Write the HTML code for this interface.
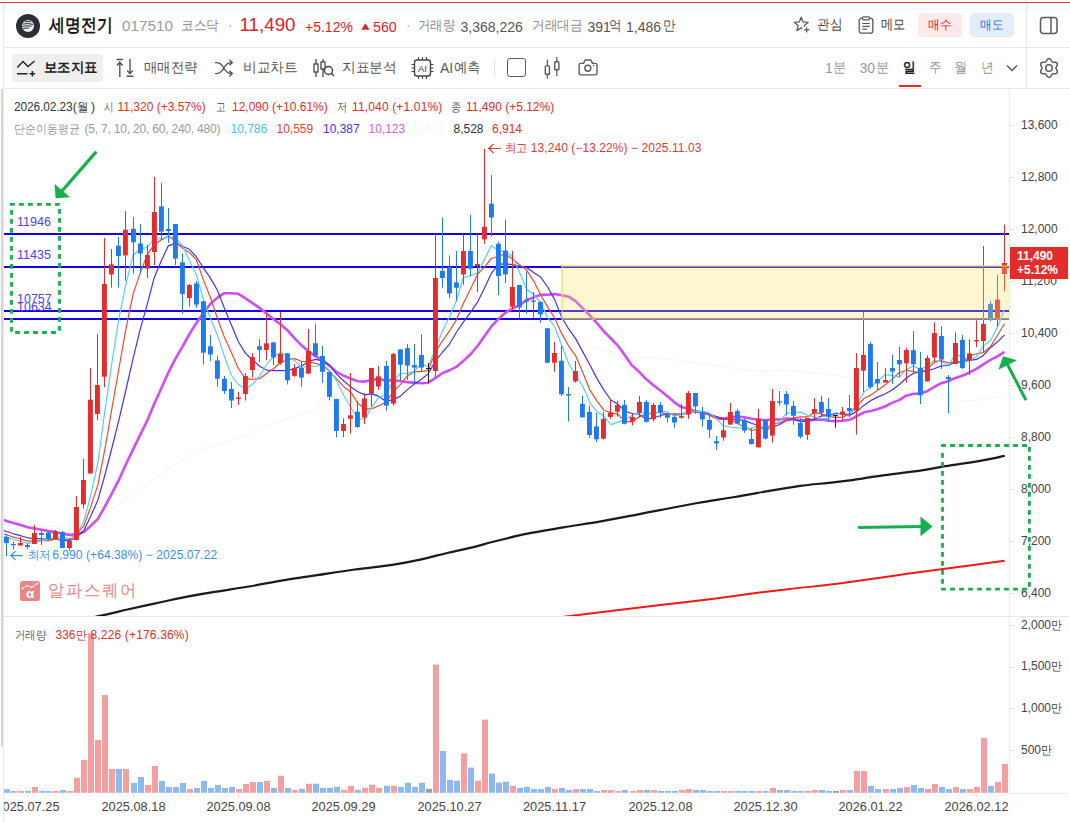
<!DOCTYPE html>
<html><head><meta charset="utf-8">
<style>
*{margin:0;padding:0;box-sizing:border-box}
html,body{width:1070px;height:822px;overflow:hidden;background:#fff}
body{position:relative;font-family:"Liberation Sans",sans-serif;color:#333}
.a{position:absolute;white-space:nowrap;line-height:1}
.k{position:absolute;white-space:nowrap;line-height:1;transform-origin:0 0}
.ln{position:absolute;background:#e8e8e8}
.ax{position:absolute;font-size:12px;color:#444;line-height:1;white-space:nowrap}
.dt{position:absolute;font-size:12.8px;color:#444;line-height:1;white-space:nowrap;width:70px;text-align:center}
.tk{position:absolute;width:5px;height:1px;background:#e6e6e6;left:1010px}
</style></head><body>
<!-- frame lines -->
<div class="ln" style="left:0;top:2px;width:1070px;height:1px;background:#e53935"></div>
<div class="ln" style="left:3px;top:3px;width:1px;height:85px"></div>
<div class="ln" style="left:3px;top:47px;width:1067px;height:1px"></div>
<div class="ln" style="left:3px;top:88px;width:1067px;height:1px"></div>
<div class="ln" style="left:1026px;top:3px;width:1px;height:85px"></div>
<div class="ln" style="left:3px;top:89px;width:1px;height:733px;background:#ebebeb"></div>
<div class="ln" style="left:1px;top:89px;width:2px;height:658px;background:#d6d6d6"></div>
<div class="ln" style="left:1009px;top:89px;width:1px;height:705px;background:#ececec"></div>
<div class="ln" style="left:4px;top:616px;width:1065px;height:1px;background:#e6e6e6"></div>
<div class="ln" style="left:1010px;top:793px;width:59px;height:1px;background:#ececec"></div>
<div class="tk" style="top:125px"></div><div class="tk" style="top:177px"></div><div class="tk" style="top:229px"></div><div class="tk" style="top:281px"></div><div class="tk" style="top:333px"></div><div class="tk" style="top:385px"></div><div class="tk" style="top:437px"></div><div class="tk" style="top:489px"></div><div class="tk" style="top:541px"></div><div class="tk" style="top:593px"></div>
<div class="tk" style="top:625px"></div><div class="tk" style="top:667px"></div><div class="tk" style="top:708px"></div><div class="tk" style="top:750px"></div>

<!-- header -->
<div class="a" style="left:16px;top:14px;width:24px;height:24px;border-radius:50%;background:#2b2f36"></div>
<svg class="a" style="left:16px;top:14px" width="24" height="24" viewBox="0 0 24 24"><circle cx="12" cy="11.9" r="6" fill="#ececec"/><path d="M9.3 7.6 Q12 6.9 14.6 7.9 M7.4 10 Q11.5 8.8 16.6 10.3 M6.8 12.4 Q10.5 11.2 15.2 12.1 M7.5 14.6 Q10 13.6 12.6 14" stroke="#2b2f36" stroke-width="1" fill="none" stroke-linecap="round"/></svg>
<div class="k" style="left:49px;top:16px;font-size:18px;font-weight:bold;color:#1b1b1b;transform:scaleX(.88)">세명전기</div>
<div class="a" style="left:122px;top:17.5px;font-size:15.3px;color:#9c9c9c">017510</div>
<div class="k" style="left:181px;top:18px;font-size:14px;color:#8e8e8e;transform:scaleX(.9)">코스닥</div>
<div class="a" style="left:228px;top:18px;font-size:14px;color:#aaa">·</div>
<div class="a" style="left:239.5px;top:16px;font-size:18.8px;color:#e4202a">11,490</div>
<div class="a" style="left:305px;top:19.5px;font-size:14px;color:#e4202a">+5.12%</div>
<svg class="a" style="left:360px;top:22px" width="11" height="9" viewBox="0 0 11 9"><polygon points="1.3,7.7 9.5,7.7 5.4,1.3" fill="#e4202a"/></svg>
<div class="a" style="left:373px;top:19.5px;font-size:14.2px;color:#e4202a">560</div>
<div class="a" style="left:406px;top:18px;font-size:14px;color:#aaa">·</div>
<div class="k" style="left:418px;top:18px;font-size:14px;color:#8e8e8e;transform:scaleX(.88)">거래량</div>
<div class="a" style="left:460.5px;top:19.5px;font-size:14px;color:#555">3,368,226</div>
<div class="k" style="left:532px;top:18px;font-size:14px;color:#8e8e8e;transform:scaleX(.91)">거래대금</div>
<div class="a" style="left:587.5px;top:19.5px;font-size:14px;color:#555">391</div>
<div class="k" style="left:609px;top:18px;font-size:14px;color:#555;transform:scaleX(.9)">억</div>
<div class="a" style="left:626px;top:19.5px;font-size:14px;color:#555">1,486</div>
<div class="k" style="left:663px;top:18px;font-size:14px;color:#555;transform:scaleX(.9)">만</div>

<svg class="a" style="left:793px;top:16px" width="18" height="17" viewBox="0 0 18 17"><path d="M11.7 10.9 L11.3 9.6 L15.2 6.3 L10.1 5.9 L8.2 1.2 L6.3 5.9 L1.2 6.3 L5.1 9.6 L3.9 14.6 L8.2 11.9 L9.4 12.6" fill="none" stroke="#5a5a5a" stroke-width="1.3" stroke-linejoin="round"/><path d="M13.6 11.2 V16.6 M10.9 13.9 H16.3" stroke="#5a5a5a" stroke-width="1.3"/></svg>
<div class="k" style="left:816.5px;top:17px;font-size:14px;color:#444;transform:scaleX(.9)">관심</div>
<svg class="a" style="left:858px;top:16px" width="16" height="18" viewBox="0 0 16 18"><rect x="1.2" y="2.2" width="13.6" height="15" rx="2.5" fill="none" stroke="#5a5a5a" stroke-width="1.3"/><rect x="4.5" y="0.8" width="7" height="3" rx="1" fill="#fff" stroke="#5a5a5a" stroke-width="1.2"/><path d="M4.3 7.5H11.7M4.3 10.3H11.7M4.3 13.1H9" stroke="#5a5a5a" stroke-width="1.2"/></svg>
<div class="k" style="left:881px;top:17px;font-size:14px;color:#444;transform:scaleX(.87)">메모</div>
<div class="a" style="left:918px;top:13px;width:44px;height:24px;border-radius:4px;background:#fde9e9"></div>
<div class="k" style="left:928px;top:18px;font-size:13px;color:#e4202a;transform:scaleX(.9)">매수</div>
<div class="a" style="left:970px;top:13px;width:44px;height:24px;border-radius:4px;background:#e3eefd"></div>
<div class="k" style="left:980px;top:18px;font-size:13px;color:#1b6fe8;transform:scaleX(.9)">매도</div>
<svg class="a" style="left:1039px;top:16px" width="20" height="19" viewBox="0 0 20 19"><rect x="1.5" y="1.5" width="16.5" height="16" rx="3" fill="none" stroke="#5a5a5a" stroke-width="1.5"/><path d="M12 1.5V17.5" stroke="#5a5a5a" stroke-width="1.5"/></svg>

<!-- toolbar -->
<div class="a" style="left:12px;top:54px;width:91px;height:28px;border-radius:4px;background:#efefef"></div>
<svg class="a" style="left:16px;top:60px" width="20" height="17" viewBox="0 0 20 17"><path d="M1.3 7.5 L7 1.5 L12 6.5 L18.6 1" fill="none" stroke="#222" stroke-width="1.4"/><path d="M1 13.8H11.5M13.6 13.8H19.2M16.4 11V16.6" stroke="#222" stroke-width="1.5"/></svg>
<div class="k" style="left:44px;top:60px;font-size:14px;color:#222;font-weight:bold;transform:scaleX(.96)">보조지표</div>
<svg class="a" style="left:115px;top:58px" width="20" height="20" viewBox="0 0 20 20"><path d="M1.5 1.5H8M4.8 4V19M2 7.5 L4.8 4.2 L7.6 7.5" fill="none" stroke="#555" stroke-width="1.4"/><path d="M11.5 18.3H18.5M15 1V15.5M12.2 12.5 L15 15.6 L17.8 12.5" fill="none" stroke="#555" stroke-width="1.4"/></svg>
<div class="k" style="left:144px;top:60px;font-size:14px;color:#555;transform:scaleX(.96)">매매전략</div>
<svg class="a" style="left:214px;top:59px" width="21" height="18" viewBox="0 0 21 18"><path d="M1.5 3.6 C5.5 3.6 7 4.5 9.8 9 C12.6 13.5 14 14.6 18.2 14.6 M1.5 14.6 C5.5 14.6 7 13.5 9.8 9 C12.6 4.5 14 3.6 18.2 3.6 M15.8 1.2 L18.3 3.6 L15.8 6 M15.8 12.2 L18.3 14.6 L15.8 17" fill="none" stroke="#555" stroke-width="1.4" stroke-linecap="round" stroke-linejoin="round"/></svg>
<div class="k" style="left:242.5px;top:60px;font-size:14px;color:#555;transform:scaleX(.98)">비교차트</div>
<svg class="a" style="left:313px;top:58px" width="22" height="20" viewBox="0 0 22 20"><path d="M3 1V19M10 1V19" stroke="#444" stroke-width="1.3"/><rect x="1" y="6" width="4" height="8" fill="#fff" stroke="#444" stroke-width="1.3"/><rect x="8" y="4" width="4" height="7" fill="#fff" stroke="#444" stroke-width="1.3"/><circle cx="15.5" cy="12.5" r="4" fill="#fff" stroke="#444" stroke-width="1.4"/><path d="M18.3 15.3 L21 18" stroke="#444" stroke-width="1.5"/></svg>
<div class="k" style="left:341.5px;top:60px;font-size:14px;color:#555;transform:scaleX(.98)">지표분석</div>
<svg class="a" style="left:411px;top:57px" width="23" height="22" viewBox="0 0 23 22"><rect x="3.5" y="3" width="16" height="16" rx="2.5" fill="none" stroke="#444" stroke-width="1.4"/><path d="M0.5 7.5H3.5M0.5 11H3.5M0.5 14.5H3.5M19.5 7.5H22.5M19.5 11H22.5M19.5 14.5H22.5M7.5 0V3M11.5 0V3M15.5 0V3M7.5 19V22M11.5 19V22M15.5 19V22" stroke="#444" stroke-width="1.1"/><text x="11.5" y="14.8" font-size="9.5" font-family="Liberation Sans" text-anchor="middle" fill="#444">AI</text></svg>
<div class="a" style="left:440px;top:61px;font-size:14px;color:#555">AI</div>
<div class="k" style="left:454px;top:60px;font-size:14px;color:#555;transform:scaleX(.96)">예측</div>
<div class="ln" style="left:494px;top:60px;width:1px;height:16px;background:#e2e2e2"></div>
<div class="a" style="left:506.5px;top:58.2px;width:19.2px;height:19px;border:1.4px solid #5c5c5c;border-radius:3px"></div>
<svg class="a" style="left:540px;top:55px" width="24" height="26" viewBox="0 0 24 26"><path d="M7.4 4.6V23.4M16.8 2V21.1" stroke="#5c5c5c" stroke-width="1.3"/><rect x="5.3" y="10.9" width="4.2" height="8.4" rx="0.8" fill="#fff" stroke="#5c5c5c" stroke-width="1.4"/><rect x="14.7" y="6.7" width="4.2" height="8.1" rx="0.8" fill="#fff" stroke="#5c5c5c" stroke-width="1.4"/></svg>
<svg class="a" style="left:576px;top:57px" width="24" height="21" viewBox="0 0 24 21"><path d="M3.1 8 Q3.1 6.4 4.7 6.4 H7.6 L9.2 3 H14.9 L16.5 6.4 H19.4 Q21 6.4 21 8 V16.3 Q21 17.9 19.4 17.9 H4.7 Q3.1 17.9 3.1 16.3 Z" fill="none" stroke="#5c5c5c" stroke-width="1.4" stroke-linejoin="round"/><circle cx="11.8" cy="11.3" r="3" fill="none" stroke="#5c5c5c" stroke-width="1.4"/><circle cx="17.6" cy="8.6" r="0.8" fill="#5c5c5c"/></svg>

<div class="a" style="left:825px;top:61px;font-size:14px;color:#9a9a9a">1</div>
<div class="k" style="left:833px;top:60px;font-size:14px;color:#9a9a9a;transform:scaleX(.95)">분</div>
<div class="a" style="left:859.5px;top:61px;font-size:14px;color:#9a9a9a">30</div>
<div class="k" style="left:876px;top:60px;font-size:14px;color:#9a9a9a;transform:scaleX(.95)">분</div>
<div class="k" style="left:903px;top:59.5px;font-size:14px;color:#1b1b1b;font-weight:bold;transform:scaleX(.9)">일</div>
<div class="ln" style="left:899px;top:85px;width:22px;height:2px;background:#e52b2b"></div>
<div class="k" style="left:929px;top:60px;font-size:14px;color:#9a9a9a;transform:scaleX(.92)">주</div>
<div class="k" style="left:954px;top:60px;font-size:14px;color:#9a9a9a;transform:scaleX(.95)">월</div>
<div class="k" style="left:981px;top:60px;font-size:14px;color:#9a9a9a;transform:scaleX(.92)">년</div>
<svg class="a" style="left:1006px;top:64px" width="12" height="8" viewBox="0 0 12 8"><path d="M1 1.5 L6 6.5 L11 1.5" fill="none" stroke="#555" stroke-width="1.4"/></svg>
<svg class="a" style="left:1038px;top:57px" width="22" height="22" viewBox="0 0 22 22"><path d="M17.95,11.00 L18.00,11.37 L18.14,11.75 L18.35,12.16 L18.61,12.62 L18.87,13.11 L19.10,13.63 L19.27,14.17 L19.33,14.71 L19.28,15.22 L19.10,15.67 L18.79,16.06 L18.38,16.36 L17.88,16.57 L17.33,16.70 L16.76,16.76 L16.21,16.78 L15.69,16.79 L15.22,16.81 L14.82,16.88 L14.48,17.02 L14.18,17.24 L13.92,17.56 L13.67,17.95 L13.40,18.40 L13.11,18.87 L12.77,19.33 L12.39,19.75 L11.95,20.07 L11.49,20.28 L11.00,20.35 L10.51,20.28 L10.05,20.07 L9.61,19.75 L9.23,19.33 L8.89,18.87 L8.60,18.40 L8.33,17.95 L8.08,17.56 L7.82,17.24 L7.53,17.02 L7.18,16.88 L6.78,16.81 L6.31,16.79 L5.79,16.78 L5.24,16.76 L4.67,16.70 L4.12,16.57 L3.62,16.36 L3.21,16.06 L2.90,15.67 L2.72,15.22 L2.67,14.71 L2.73,14.17 L2.90,13.63 L3.13,13.11 L3.39,12.62 L3.65,12.16 L3.86,11.75 L4.00,11.37 L4.05,11.00 L4.00,10.63 L3.86,10.25 L3.65,9.84 L3.39,9.38 L3.13,8.89 L2.90,8.37 L2.73,7.83 L2.67,7.29 L2.72,6.78 L2.90,6.33 L3.21,5.94 L3.62,5.64 L4.12,5.43 L4.67,5.30 L5.24,5.24 L5.79,5.22 L6.31,5.21 L6.78,5.19 L7.18,5.12 L7.52,4.98 L7.82,4.76 L8.08,4.44 L8.33,4.05 L8.60,3.60 L8.89,3.13 L9.23,2.67 L9.61,2.25 L10.05,1.93 L10.51,1.72 L11.00,1.65 L11.49,1.72 L11.95,1.93 L12.39,2.25 L12.77,2.67 L13.11,3.13 L13.40,3.60 L13.67,4.05 L13.92,4.44 L14.18,4.76 L14.48,4.98 L14.82,5.12 L15.22,5.19 L15.69,5.21 L16.21,5.22 L16.76,5.24 L17.33,5.30 L17.88,5.43 L18.38,5.64 L18.79,5.94 L19.10,6.33 L19.28,6.78 L19.33,7.29 L19.27,7.83 L19.10,8.37 L18.87,8.89 L18.61,9.38 L18.35,9.84 L18.14,10.25 L18.00,10.63Z" fill="none" stroke="#5a5a5a" stroke-width="1.5" stroke-linejoin="round"/><circle cx="11" cy="11" r="3.3" fill="none" stroke="#5a5a5a" stroke-width="1.5"/></svg>

<!-- legends -->
<div class="a" style="left:14px;top:101px;font-size:12px;color:#333;letter-spacing:-.14px">2026.02.23(</div>
<div class="k" style="left:77px;top:100.5px;font-size:12px;color:#333;transform:scaleX(.95)">월</div>
<div class="a" style="left:91px;top:101px;font-size:12px;color:#333">)</div>
<div class="k" style="left:103.5px;top:100.5px;font-size:12px;color:#666;transform:scaleX(.8)">시</div>
<div class="a" style="left:117.5px;top:101px;font-size:12px;color:#e52b2b">11,320 (+3.57%)</div>
<div class="k" style="left:216px;top:100.5px;font-size:12px;color:#666;transform:scaleX(.8)">고</div>
<div class="a" style="left:232px;top:101px;font-size:12px;color:#e52b2b">12,090 (+10.61%)</div>
<div class="k" style="left:336.5px;top:100.5px;font-size:12px;color:#666;transform:scaleX(.85)">저</div>
<div class="a" style="left:352px;top:101px;font-size:12px;color:#e52b2b;letter-spacing:.15px">11,040 (+1.01%)</div>
<div class="k" style="left:451px;top:100.5px;font-size:12px;color:#666;transform:scaleX(.85)">종</div>
<div class="a" style="left:466px;top:101px;font-size:12px;color:#e52b2b">11,490 (+5.12%)</div>

<div class="k" style="left:14.4px;top:122.5px;font-size:12px;color:#999;transform:scaleX(.91)">단순이동평균</div>
<div class="a" style="left:84.5px;top:123px;font-size:12px;color:#999;letter-spacing:-.2px">(5, 7, 10, 20, 60, 240, 480)</div>
<div class="a" style="left:230.5px;top:123px;font-size:12px;color:#3ec5f0">10,786</div>
<div class="a" style="left:276.5px;top:123px;font-size:12px;color:#f0402a">10,559</div>
<div class="a" style="left:323px;top:123px;font-size:12px;color:#4a2ff0">10,387</div>
<div class="a" style="left:368.5px;top:123px;font-size:12px;color:#d460f2">10,123</div>
<div class="a" style="left:414px;top:123px;font-size:12px;color:#f6f6f6">9,471</div>
<div class="a" style="left:453.5px;top:123px;font-size:12px;color:#333">8,528</div>
<div class="a" style="left:492px;top:123px;font-size:12px;color:#f02a2a">6,914</div>

<div class="k" style="left:505.3px;top:141.8px;font-size:12px;color:#e53935;transform:scaleX(.95)">최고</div>
<div class="a" style="left:530.8px;top:142px;font-size:12px;color:#e53935;letter-spacing:.07px">13,240 (−13.22%) − 2025.11.03</div>
<div class="k" style="left:27.5px;top:548.5px;font-size:12px;color:#3a8ef0;transform:scaleX(.95)">최저</div>
<div class="a" style="left:52.2px;top:549px;font-size:12px;color:#3a8ef0;letter-spacing:.08px">6,990 (+64.38%) − 2025.07.22</div>

<!-- watermark -->
<svg class="a" style="left:20px;top:581px" width="20" height="20" viewBox="0 0 20 20"><rect width="20" height="20" rx="2.5" fill="#e98686"/><path d="M2.5 7.5 L7 4.6 L11.6 6.2 L17.3 2.6" fill="none" stroke="#fff" stroke-width="0.8"/><circle cx="7" cy="4.6" r="0.9" fill="#fff"/><circle cx="11.6" cy="6.2" r="0.9" fill="#fff"/><circle cx="17.3" cy="2.6" r="0.9" fill="#fff"/><circle cx="2.5" cy="7.5" r="0.9" fill="#fff"/><text x="10.2" y="17.3" font-size="13.5" font-weight="bold" font-family="Liberation Sans" text-anchor="middle" fill="#fff">α</text></svg>
<div class="k" style="left:47.5px;top:582px;font-size:17px;color:#e98686;letter-spacing:1.8px;transform:scaleX(.96)">알파스퀘어</div>



<!-- price axis -->
<div class="ax" style="left:1021px;top:119px">13,600</div>
<div class="ax" style="left:1021px;top:171px">12,800</div>
<div class="ax" style="left:1021px;top:223px">12,000</div>
<div class="ax" style="left:1021px;top:275px">11,200</div>
<div class="ax" style="left:1021px;top:327px">10,400</div>
<div class="ax" style="left:1021px;top:379px">9,600</div>
<div class="ax" style="left:1021px;top:431px">8,800</div>
<div class="ax" style="left:1021px;top:483px">8,000</div>
<div class="ax" style="left:1021px;top:535px">7,200</div>
<div class="ax" style="left:1021px;top:587px">6,400</div>
<div class="ax" style="left:1021px;top:619px">2,000</div><div class="k" style="left:1051px;top:618.5px;font-size:12px;color:#444;transform:scaleX(.9)">만</div>
<div class="ax" style="left:1021px;top:660px">1,500</div><div class="k" style="left:1051px;top:659.5px;font-size:12px;color:#444;transform:scaleX(.9)">만</div>
<div class="ax" style="left:1021px;top:702px">1,000</div><div class="k" style="left:1051px;top:701.5px;font-size:12px;color:#444;transform:scaleX(.9)">만</div>
<div class="ax" style="left:1021px;top:744px">500</div><div class="k" style="left:1041px;top:743.5px;font-size:12px;color:#444;transform:scaleX(.9)">만</div>

<!-- date axis -->
<div style="position:absolute;left:4px;top:790px;width:1066px;height:32px;overflow:hidden"><div style="position:absolute;left:-4px;top:-790px;width:1070px;height:822px"><div class="dt" style="left:-7.5px;top:800.5px">2025.07.25</div>
<div class="ln" style="left:27px;top:794px;width:1px;height:4px;background:#e8e8e8"></div>
<div class="dt" style="left:98.5px;top:800.5px">2025.08.18</div>
<div class="ln" style="left:133px;top:794px;width:1px;height:4px;background:#e8e8e8"></div>
<div class="dt" style="left:203.5px;top:800.5px">2025.09.08</div>
<div class="ln" style="left:238px;top:794px;width:1px;height:4px;background:#e8e8e8"></div>
<div class="dt" style="left:308.5px;top:800.5px">2025.09.29</div>
<div class="ln" style="left:343px;top:794px;width:1px;height:4px;background:#e8e8e8"></div>
<div class="dt" style="left:414.5px;top:800.5px">2025.10.27</div>
<div class="ln" style="left:449px;top:794px;width:1px;height:4px;background:#e8e8e8"></div>
<div class="dt" style="left:519.5px;top:800.5px">2025.11.17</div>
<div class="ln" style="left:554px;top:794px;width:1px;height:4px;background:#e8e8e8"></div>
<div class="dt" style="left:625.5px;top:800.5px">2025.12.08</div>
<div class="ln" style="left:660px;top:794px;width:1px;height:4px;background:#e8e8e8"></div>
<div class="dt" style="left:730.5px;top:800.5px">2025.12.30</div>
<div class="ln" style="left:765px;top:794px;width:1px;height:4px;background:#e8e8e8"></div>
<div class="dt" style="left:835.5px;top:800.5px">2026.01.22</div>
<div class="ln" style="left:870px;top:794px;width:1px;height:4px;background:#e8e8e8"></div>
<div class="dt" style="left:941.5px;top:800.5px">2026.02.12</div>
<div class="ln" style="left:976px;top:794px;width:1px;height:4px;background:#e8e8e8"></div></div></div>

<svg width="1070" height="822" style="position:absolute;left:0;top:0">
<defs><clipPath id="cm"><rect x="4" y="89" width="1005" height="527"/></clipPath><clipPath id="cv"><rect x="3" y="617" width="1006.5" height="176"/></clipPath></defs>
<g clip-path="url(#cm)">
<polyline fill="none" stroke="#f6f6f6" stroke-width="1.2" points="-0.5,529.4 6.5,528.9 13.5,528.6 20.6,528.2 27.6,527.9 34.6,527.4 41.7,527 48.7,526.7 55.7,526.2 62.7,526 69.8,525.8 76.8,525 83.8,523.8 90.8,521.2 97.9,518.5 104.9,514.1 111.9,509.3 119,504.5 126,499.2 133,494.2 140,489.4 147.1,484.6 154.1,479.1 161.1,474 168.2,468.9 175.2,464.2 182.2,460.2 189.2,456.1 196.3,452.3 203.3,449.3 210.3,446.4 217.4,443.9 224.4,441.6 231.4,439.5 238.4,437.4 245.5,434.9 252.5,432.2 259.5,429.3 266.5,426.4 273.6,423.7 280.6,421 287.6,418.7 294.7,416.3 301.7,414 308.7,411.3 315.7,408.8 322.8,406.5 329.8,404.6 336.8,403.4 343.9,402 350.9,400.5 357.9,399.3 364.9,397.5 372,395.3 379,393.3 386,391.8 393.1,389.4 400.1,387.2 407.1,385.1 414.1,383 421.2,381 428.2,378 435.2,373.6 442.2,369.2 449.3,365 456.3,360.9 463.3,356.1 470.4,351.6 477.4,347.2 484.4,341.8 491.4,336.4 498.5,332.6 505.5,329.1 512.5,327.3 519.6,326 526.6,326.3 533.6,326.9 540.6,327.9 547.7,330.1 554.7,331.9 561.7,334.3 568.8,336.6 575.8,339.3 582.8,342.4 589.8,345.8 596.9,348.8 603.9,350.9 610.9,353 617.9,354.7 625,355.8 632,356.9 639,357.3 646.1,357.8 653.1,357.9 660.1,358.1 667.1,358.8 674.2,359.9 681.2,361 688.2,361.8 695.3,362.6 702.3,363.7 709.3,364.6 716.3,365.8 723.4,366.7 730.4,367.7 737.4,368.8 744.5,369.8 751.5,370.6 758.5,370.4 765.5,370.7 772.6,370.4 779.6,370 786.6,370.1 793.6,370.9 800.7,371.9 807.7,372.1 814.7,373 821.8,373.8 828.8,374.7 835.8,375.5 842.8,376.2 849.9,376.9 856.9,378.4 863.9,379.7 871,381.3 878,382.9 885,385 892,386.7 899.1,388.4 906.1,390.5 913.1,392.9 920.2,394.9 927.2,396.3 934.2,397 941.2,397.9 948.3,399.2 955.3,399.9 962.3,400.8 969.3,400.6 976.4,400.4 983.4,399.2 990.4,398 997.5,396.8 1004.5,394.2"/>
<path fill="none" stroke="#1a1a1a" stroke-width="2.2" d="M60,624 C66.9,622.6 90,618.1 101.2,615.7 C112.4,613.3 118.4,611.5 127.4,609.5 C136.4,607.5 146.1,605.4 155.4,603.4 C164.8,601.4 174.2,599.2 183.5,597.4 C192.8,595.5 200.6,594.1 211.5,592.3 C222.4,590.5 237.5,588.4 248.9,586.5 C260.3,584.6 268.6,582.7 280,580.8 C291.4,578.9 304.9,577 317.4,575.1 C329.9,573.2 342.4,571.2 354.8,569.5 C367.2,567.8 381.2,566.5 392.1,564.9 C403,563.2 410.9,561.6 420.2,559.6 C429.5,557.6 439.9,554.7 448.2,552.7 C456.5,550.8 461.7,549.9 470,547.9 C478.3,545.9 488.6,542.8 498,540.5 C507.4,538.2 515.2,536.1 526.1,533.9 C537,531.7 551,529.5 563.5,527.4 C576,525.3 588.3,523.6 600.8,521.4 C613.2,519.2 628.3,516.2 638.2,514.3 C648.1,512.4 650.1,512 660,510.1 C669.9,508.2 684.9,505.2 697.4,503 C709.9,500.8 722.3,499.1 734.8,497 C747.2,494.9 761.2,492.2 772.1,490.3 C783,488.4 790.9,487.1 800.2,485.8 C809.6,484.6 819.9,483.7 828.2,482.8 C836.5,481.9 841.4,481.5 850,480.4 C858.6,479.2 868.2,477.5 879.9,475.9 C891.6,474.3 909.8,472.2 920.3,470.7 C930.8,469.1 934.5,467.9 942.7,466.6 C950.9,465.3 961.4,464 969.6,462.7 C977.8,461.4 986.1,459.9 992,458.7 C997.9,457.5 1002.7,456.2 1004.8,455.7"/>
<path fill="none" stroke="#ee1a1a" stroke-width="2" d="M520,622.6 C528.4,621.5 554.7,618 570.2,616 C585.7,614 597.5,612.7 612.8,610.8 C628.1,608.9 645.4,606.8 662.2,604.8 C679,602.8 698.8,600.6 713.8,598.7 C728.8,596.8 739.2,595.2 751.9,593.6 C764.6,592 774.6,590.8 790,589 C805.4,587.2 824.7,585.3 844.5,582.7 C864.3,580.1 887.5,576.6 909,573.6 C930.5,570.6 957.6,567.1 973.5,565 C989.4,562.9 999.4,561.4 1004.6,560.7"/>
<rect x="4" y="233" width="1005.5" height="2" fill="#1400f0"/>
<rect x="4" y="266" width="1005.5" height="2" fill="#1400f0"/>
<rect x="4" y="310" width="1005.5" height="2" fill="#1400f0"/>
<rect x="4" y="318" width="1005.5" height="2" fill="#1400f0"/>
<polyline fill="none" stroke="#d04cf5" stroke-width="2.6" stroke-linejoin="round" points="-0.5,518.6 6.5,520.9 13.5,523.1 20.6,525.1 27.6,527.2 34.6,528.5 41.7,529.8 48.7,531.1 55.7,532.1 62.7,533.7 69.8,534.9 76.8,534.2 83.8,532.1 90.8,525.9 97.9,518.9 104.9,506.7 111.9,493.4 119,479.6 126,464.3 133,449.6 140,435.4 147.1,420.9 154.1,404.3 161.1,388.7 168.2,372.9 175.2,359.2 182.2,347.2 189.2,334.5 196.3,323.1 203.3,313.3 210.3,304 217.4,297.6 224.4,293.2 231.4,293.2 238.4,293.8 245.5,298.4 252.5,303.1 259.5,307.8 266.5,313.4 273.6,319.2 280.6,324.2 287.6,330.5 294.7,338.3 301.7,345.6 308.7,351.6 315.7,356.4 322.8,360.3 329.8,365.9 336.8,372.2 343.9,375.8 350.9,378.8 357.9,381.2 364.9,381.6 372,380 379,378.9 386,380.4 393.1,380.3 400.1,381 407.1,382.1 414.1,382.6 421.2,383.3 428.2,382.7 435.2,378.2 442.2,373.2 449.3,370.3 456.3,366.9 463.3,360.9 470.4,354.5 477.4,346.2 484.4,336.3 491.4,326.4 498.5,318.9 505.5,312.7 512.5,308.6 519.6,305.2 526.6,300 533.6,297.4 540.6,294.8 547.7,294.7 554.7,294 561.7,295.3 568.8,296.7 575.8,301.3 582.8,308.3 589.8,315.4 596.9,323 603.9,331.3 610.9,338.5 617.9,345.6 625,355.4 632,365.4 639,371.7 646.1,379.1 653.1,385 660.1,390.2 667.1,396 674.2,402.1 681.2,407.1 688.2,408.7 695.3,411.3 702.3,412.6 709.3,414.3 716.3,417.9 723.4,418.6 730.4,417.4 737.4,416.6 744.5,417.2 751.5,418.8 758.5,419.5 765.5,420.2 772.6,419.4 779.6,419.5 786.6,418.6 793.6,419.1 800.7,420.3 807.7,420.4 814.7,419.7 821.8,419.5 828.8,420.7 835.8,421.1 842.8,420.7 849.9,419.8 856.9,416 863.9,412.3 871,411 878,409 885,406.5 892,402.9 899.1,400.1 906.1,395.7 913.1,393.9 920.2,393.5 927.2,391.2 934.2,387 941.2,383.2 948.3,381.2 955.3,377.9 962.3,375.7 969.3,372.5 976.4,368.8 983.4,364.4 990.4,359.8 997.5,356.4 1004.5,351.8"/>
<polyline fill="none" stroke="#4a2ff0" stroke-width="1.2" stroke-linejoin="round" points="-0.5,529.1 6.5,531.5 13.5,533.8 20.6,535.7 27.6,537.8 34.6,538.3 41.7,538.8 48.7,539.5 55.7,539.2 62.7,540.3 69.8,540.5 76.8,537 83.8,530.5 90.8,516.1 97.9,499.9 104.9,475 111.9,448 119,419.7 126,389.5 133,358.9 140,330.2 147.1,304.9 154.1,278.1 161.1,261.3 168.2,245.9 175.2,243.4 182.2,246.3 189.2,249.2 196.3,256.7 203.3,267.8 210.3,277.9 217.4,290.3 224.4,308.2 231.4,325.1 238.4,341.7 245.5,353.4 252.5,359.8 259.5,366.2 266.5,370.1 273.6,370.6 280.6,370.5 287.6,370.7 294.7,368.4 301.7,366.1 308.7,361.4 315.7,359.4 322.8,360.9 329.8,365.6 336.8,374.4 343.9,381 350.9,387.1 357.9,391.8 364.9,394.9 372,393.9 379,396.4 386,401.4 393.1,399.6 400.1,396.4 407.1,389.9 414.1,384.3 421.2,379.5 428.2,373.6 435.2,361.5 442.2,352.5 449.3,344.3 456.3,332.5 463.3,322.2 470.4,312.6 477.4,302.4 484.4,288.3 491.4,273.3 498.5,264.1 505.5,263.8 512.5,264.7 519.6,266.1 526.6,267.5 533.6,272.5 540.6,277.1 547.7,287 554.7,299.6 561.7,317.3 568.8,329.2 575.8,338.9 582.8,351.9 589.8,364.7 596.9,378.4 603.9,390.1 610.9,400 617.9,404.2 625,411.3 632,413.5 639,414.2 646.1,419.3 653.1,418 660.1,415.8 667.1,413.6 674.2,414 681.2,414.3 688.2,413.1 695.3,411.4 702.3,411.6 709.3,414.4 716.3,416.6 723.4,419.1 730.4,419 737.4,419.6 744.5,420.4 751.5,423.2 758.5,425.8 765.5,429.1 772.6,427.2 779.6,424.5 786.6,420.6 793.6,419.2 800.7,421.6 807.7,421.1 814.7,418.9 821.8,415.8 828.8,415.6 835.8,413.2 842.8,414.2 849.9,415.1 856.9,411.4 863.9,405.4 871,400.4 878,396.9 885,394 892,389.9 899.1,384.7 906.1,378.2 913.1,373.4 920.2,371.9 927.2,370.9 934.2,368.7 941.2,365.9 948.3,365.5 955.3,361.8 962.3,361.5 969.3,360.4 976.4,359.4 983.4,355.4 990.4,347.7 997.5,341.8 1004.5,334.8"/>
<polyline fill="none" stroke="#f24a2a" stroke-width="1.2" stroke-linejoin="round" points="-0.5,532.3 6.5,534.7 13.5,537.1 20.6,539 27.6,541.1 34.6,540.9 41.7,540.7 48.7,540.7 55.7,539.1 62.7,539.5 69.8,539.2 76.8,533.5 83.8,525.9 90.8,506.6 97.9,484.6 104.9,449.2 111.9,408.7 119,368 126,328.4 133,294.4 140,273.6 147.1,255 154.1,244.7 161.1,240 168.2,236.4 175.2,240.6 182.2,247.9 189.2,252.4 196.3,259.5 203.3,279.6 210.3,297.2 217.4,318.3 224.4,337.2 231.4,352.4 238.4,368.5 245.5,378.7 252.5,379.3 259.5,378.7 266.5,373.6 273.6,368.8 280.6,362.2 287.6,359.7 294.7,358.6 301.7,361.5 308.7,361.7 315.7,363.4 322.8,365.5 329.8,371.6 336.8,378.8 343.9,386.8 350.9,392.2 357.9,403.1 364.9,409.2 372,408.6 379,405.7 386,402.1 393.1,392.1 400.1,384.9 407.1,376.1 414.1,371.7 421.2,371.6 428.2,370.4 435.2,352.2 442.2,341.4 449.3,331.2 456.3,320.1 463.3,303.4 470.4,289.3 477.4,274.4 484.4,267.1 491.4,258.5 498.5,256 505.5,254.1 512.5,259.2 519.6,264.8 526.6,270.1 533.6,280.8 540.6,294.7 547.7,307.1 554.7,318.3 561.7,333.6 568.8,346.2 575.8,356.1 582.8,372.6 589.8,389.8 596.9,400.8 603.9,410.2 610.9,412.8 617.9,414.2 625,421.7 632,421.6 639,416.9 646.1,414.4 653.1,412.5 660.1,412.5 667.1,414.3 674.2,414.1 681.2,413.9 688.2,412.7 695.3,410.5 702.3,412.5 709.3,414.9 716.3,418.6 723.4,419.7 730.4,419.2 737.4,423.5 744.5,427 751.5,430.5 758.5,429 765.5,428.3 772.6,424.1 779.6,422.8 786.6,420.1 793.6,417.9 800.7,416.9 807.7,416.8 814.7,412.5 821.8,414.2 828.8,416.2 835.8,417.7 842.8,417.1 849.9,413.4 856.9,406.3 863.9,398.5 871,394.9 878,390.1 885,385.1 892,379.4 899.1,372.7 906.1,370.2 913.1,371.5 920.2,372.7 927.2,369.1 934.2,362.3 941.2,360.6 948.3,362.8 955.3,361.8 962.3,362.3 969.3,356.3 976.4,353.8 983.4,352.5 990.4,346.6 997.5,335.2 1004.5,323.8"/>
<polyline fill="none" stroke="#4fd3f5" stroke-width="1.2" stroke-linejoin="round" points="-0.5,534.4 6.5,537 13.5,539.5 20.6,541.2 27.6,543.3 34.6,542.2 41.7,540.6 48.7,539.4 55.7,537.1 62.7,537.3 69.8,538.9 76.8,533.3 83.8,521.5 90.8,495.1 97.9,462.5 104.9,411.1 111.9,362.6 119,317.8 126,283.8 133,255.3 140,249.2 147.1,247.3 154.1,238.5 161.1,238.9 168.2,236.6 175.2,237.6 182.2,245.4 189.2,260 196.3,274.6 203.3,299 210.3,318.1 217.4,335.1 224.4,356.3 231.4,375.5 238.4,384.5 245.5,388.8 252.5,384.4 259.5,376.2 266.5,364.7 273.6,356.7 280.6,352.3 287.6,357 294.7,360.6 301.7,367.5 308.7,366.2 315.7,366.5 322.8,364.8 329.8,370.6 336.8,381.2 343.9,395.8 350.9,407.8 357.9,418.8 364.9,419.1 372,406.6 379,397 386,395.1 393.1,380.5 400.1,373.7 407.1,373.2 414.1,371.5 421.2,363.9 428.2,366.7 435.2,349.4 442.2,331.8 449.3,317 456.3,301 463.3,277.6 470.4,275.8 477.4,273 484.4,259.6 491.4,245.6 498.5,250.6 505.5,251.8 512.5,256.4 519.6,272.5 526.6,289.3 533.6,294.5 540.6,302.5 547.7,317.6 554.7,326.7 561.7,345.3 568.8,364 575.8,375.3 582.8,386.2 589.8,402.6 596.9,411.6 603.9,416.3 610.9,424.6 617.9,422.1 625,419.9 632,415.4 639,412.1 646.1,413.9 653.1,413.9 660.1,411.7 667.1,411.8 674.2,415.9 681.2,414.8 688.2,412.4 695.3,411.1 702.3,411.4 709.3,412.9 716.3,418.4 723.4,425.8 730.4,427 737.4,427.8 744.5,428 751.5,428.1 758.5,425.8 765.5,431.2 772.6,426.6 779.6,421.1 786.6,413.2 793.6,412.5 800.7,412.1 807.7,415.5 814.7,416.8 821.8,418.5 828.8,418.6 835.8,414.3 842.8,413 849.9,413.4 856.9,404.4 863.9,392.1 871,386.5 878,380.9 885,374.7 892,375.4 899.1,377.2 906.1,369.8 913.1,366 920.2,369.1 927.2,366.4 934.2,360.1 941.2,362 948.3,365 955.3,354.6 962.3,356.6 969.3,360.7 976.4,356.7 983.4,345.7 990.4,340.7 997.5,327.1 1004.5,309"/>
<rect x="6" y="534" width="1" height="22" fill="#1e7af0"/>
<rect x="4" y="537" width="4.9" height="6" fill="#1e7af0"/>
<rect x="13" y="541.6" width="1" height="7.8" fill="#1e7af0"/>
<rect x="11" y="544" width="4.9" height="1.2" fill="#1e7af0"/>
<rect x="20" y="537" width="1" height="8.5" fill="#e52b2b"/>
<rect x="18" y="543" width="4.9" height="2.5" fill="#e52b2b"/>
<rect x="27" y="543" width="1" height="6" fill="#1e7af0"/>
<rect x="25" y="545" width="4.9" height="2" fill="#1e7af0"/>
<rect x="34" y="525" width="1" height="19" fill="#e52b2b"/>
<rect x="32" y="533" width="4.9" height="11" fill="#e52b2b"/>
<rect x="41" y="530" width="1" height="15" fill="#1e7af0"/>
<rect x="39" y="533" width="4.9" height="2" fill="#1e7af0"/>
<rect x="48" y="532" width="1" height="8" fill="#1e7af0"/>
<rect x="46" y="532.6" width="4.9" height="6.4" fill="#1e7af0"/>
<rect x="55" y="530" width="1" height="9" fill="#e52b2b"/>
<rect x="53" y="531.5" width="4.9" height="7.5" fill="#e52b2b"/>
<rect x="62" y="531" width="1" height="17" fill="#1e7af0"/>
<rect x="60" y="532" width="4.9" height="16" fill="#1e7af0"/>
<rect x="69" y="538" width="1" height="12.5" fill="#e52b2b"/>
<rect x="67" y="541" width="4.9" height="7" fill="#e52b2b"/>
<rect x="76" y="496" width="1" height="44.5" fill="#e52b2b"/>
<rect x="74" y="507" width="4.9" height="33" fill="#e52b2b"/>
<rect x="83" y="459" width="1" height="49.5" fill="#e52b2b"/>
<rect x="81" y="480" width="4.9" height="24.4" fill="#e52b2b"/>
<rect x="90" y="368" width="1" height="105.5" fill="#e52b2b"/>
<rect x="88" y="399.7" width="4.9" height="73.8" fill="#e52b2b"/>
<rect x="97" y="334" width="1" height="86" fill="#e52b2b"/>
<rect x="95" y="385" width="4.9" height="29" fill="#e52b2b"/>
<rect x="104" y="238" width="1" height="149" fill="#e52b2b"/>
<rect x="102" y="284" width="4.9" height="92.7" fill="#e52b2b"/>
<rect x="111" y="249" width="1" height="38.6" fill="#e52b2b"/>
<rect x="109" y="264.4" width="4.9" height="10.1" fill="#e52b2b"/>
<rect x="118" y="237" width="1" height="50.6" fill="#1e7af0"/>
<rect x="116" y="245.6" width="4.9" height="10.4" fill="#1e7af0"/>
<rect x="125" y="211" width="1" height="69.6" fill="#e52b2b"/>
<rect x="123" y="229.7" width="4.9" height="25.7" fill="#e52b2b"/>
<rect x="133" y="217" width="1" height="56.6" fill="#1e7af0"/>
<rect x="131" y="228.8" width="4.9" height="13.5" fill="#1e7af0"/>
<rect x="140" y="224" width="1" height="49.6" fill="#1e7af0"/>
<rect x="138" y="243.4" width="4.9" height="10.1" fill="#1e7af0"/>
<rect x="147" y="245" width="1" height="33" fill="#e52b2b"/>
<rect x="145" y="254.9" width="4.9" height="13.7" fill="#e52b2b"/>
<rect x="154" y="177" width="1" height="88" fill="#e52b2b"/>
<rect x="152" y="212" width="4.9" height="40" fill="#e52b2b"/>
<rect x="161" y="182.6" width="1" height="57.4" fill="#1e7af0"/>
<rect x="159" y="206.4" width="4.9" height="25.2" fill="#1e7af0"/>
<rect x="168" y="208" width="1" height="35" fill="#1e7af0"/>
<rect x="166" y="229" width="4.9" height="2" fill="#1e7af0"/>
<rect x="175" y="224" width="1" height="41" fill="#1e7af0"/>
<rect x="173" y="224" width="4.9" height="34.6" fill="#1e7af0"/>
<rect x="182" y="253.5" width="1" height="60.1" fill="#1e7af0"/>
<rect x="180" y="262.4" width="4.9" height="31.5" fill="#1e7af0"/>
<rect x="189" y="284" width="1" height="22.7" fill="#e52b2b"/>
<rect x="187" y="285" width="4.9" height="13" fill="#e52b2b"/>
<rect x="196" y="281" width="1" height="26.7" fill="#1e7af0"/>
<rect x="194" y="283.4" width="4.9" height="21.2" fill="#1e7af0"/>
<rect x="203" y="301" width="1" height="63.7" fill="#1e7af0"/>
<rect x="201" y="301.3" width="4.9" height="51.4" fill="#1e7af0"/>
<rect x="210" y="335" width="1" height="26" fill="#1e7af0"/>
<rect x="208" y="346.3" width="4.9" height="8.2" fill="#1e7af0"/>
<rect x="217" y="355.8" width="1" height="30.7" fill="#1e7af0"/>
<rect x="215" y="360.4" width="4.9" height="18.4" fill="#1e7af0"/>
<rect x="224" y="376" width="1" height="18" fill="#1e7af0"/>
<rect x="222" y="378.8" width="4.9" height="12.2" fill="#1e7af0"/>
<rect x="231" y="382" width="1" height="26" fill="#1e7af0"/>
<rect x="229" y="389" width="4.9" height="11.5" fill="#1e7af0"/>
<rect x="238" y="392" width="1" height="13" fill="#e52b2b"/>
<rect x="236" y="397.5" width="4.9" height="1.5" fill="#e52b2b"/>
<rect x="245" y="373" width="1" height="27.5" fill="#e52b2b"/>
<rect x="243" y="376" width="4.9" height="18" fill="#e52b2b"/>
<rect x="252" y="353" width="1" height="24.5" fill="#e52b2b"/>
<rect x="250" y="357" width="4.9" height="13" fill="#e52b2b"/>
<rect x="259" y="339" width="1" height="23" fill="#1e7af0"/>
<rect x="257" y="346.2" width="4.9" height="3.7" fill="#1e7af0"/>
<rect x="266" y="313.7" width="1" height="46.6" fill="#e52b2b"/>
<rect x="264" y="343.3" width="4.9" height="6.6" fill="#e52b2b"/>
<rect x="273" y="342" width="1" height="23" fill="#1e7af0"/>
<rect x="271" y="342.4" width="4.9" height="15.1" fill="#1e7af0"/>
<rect x="280" y="312" width="1" height="52.8" fill="#e52b2b"/>
<rect x="278" y="353.9" width="4.9" height="9.1" fill="#e52b2b"/>
<rect x="287" y="353" width="1" height="31.5" fill="#1e7af0"/>
<rect x="285" y="353.3" width="4.9" height="27" fill="#1e7af0"/>
<rect x="294" y="364" width="1" height="12.7" fill="#e52b2b"/>
<rect x="292" y="368" width="4.9" height="7.8" fill="#e52b2b"/>
<rect x="301" y="361.5" width="1" height="25.2" fill="#1e7af0"/>
<rect x="299" y="368" width="4.9" height="9.6" fill="#1e7af0"/>
<rect x="308" y="328.9" width="1" height="44.7" fill="#e52b2b"/>
<rect x="306" y="351" width="4.9" height="22.6" fill="#e52b2b"/>
<rect x="315" y="323.8" width="1" height="32.8" fill="#1e7af0"/>
<rect x="313" y="343.3" width="4.9" height="12.4" fill="#1e7af0"/>
<rect x="322" y="346" width="1" height="36.7" fill="#1e7af0"/>
<rect x="320" y="356" width="4.9" height="15.8" fill="#1e7af0"/>
<rect x="329" y="372" width="1" height="28.4" fill="#1e7af0"/>
<rect x="327" y="372" width="4.9" height="24.8" fill="#1e7af0"/>
<rect x="336" y="399" width="1" height="38.4" fill="#1e7af0"/>
<rect x="334" y="399" width="4.9" height="31.9" fill="#1e7af0"/>
<rect x="343" y="418.3" width="1" height="18.7" fill="#e52b2b"/>
<rect x="341" y="424" width="4.9" height="7" fill="#e52b2b"/>
<rect x="350" y="373" width="1" height="60.5" fill="#e52b2b"/>
<rect x="348" y="415.3" width="4.9" height="3.4" fill="#e52b2b"/>
<rect x="357" y="401" width="1" height="26.8" fill="#1e7af0"/>
<rect x="355" y="411.6" width="4.9" height="15.4" fill="#1e7af0"/>
<rect x="364" y="393" width="1" height="31" fill="#e52b2b"/>
<rect x="362" y="398.5" width="4.9" height="19" fill="#e52b2b"/>
<rect x="371" y="368" width="1" height="38.5" fill="#e52b2b"/>
<rect x="369" y="368" width="4.9" height="25.7" fill="#e52b2b"/>
<rect x="378" y="366" width="1" height="24" fill="#e52b2b"/>
<rect x="376" y="376.3" width="4.9" height="10.2" fill="#e52b2b"/>
<rect x="386" y="361" width="1" height="49.7" fill="#1e7af0"/>
<rect x="384" y="366" width="4.9" height="39.6" fill="#1e7af0"/>
<rect x="393" y="353" width="1" height="52.6" fill="#e52b2b"/>
<rect x="391" y="354" width="4.9" height="49.6" fill="#e52b2b"/>
<rect x="400" y="349.4" width="1" height="30.6" fill="#1e7af0"/>
<rect x="398" y="349.4" width="4.9" height="15.3" fill="#1e7af0"/>
<rect x="407" y="344" width="1" height="36" fill="#1e7af0"/>
<rect x="405" y="348.2" width="4.9" height="17.4" fill="#1e7af0"/>
<rect x="414" y="344" width="1" height="39" fill="#1e7af0"/>
<rect x="412" y="365" width="4.9" height="2.6" fill="#1e7af0"/>
<rect x="421" y="334" width="1" height="37.5" fill="#1e7af0"/>
<rect x="419" y="355" width="4.9" height="12.6" fill="#1e7af0"/>
<rect x="428" y="363" width="1" height="20" fill="#222"/>
<rect x="426" y="368" width="4.9" height="1.2" fill="#222"/>
<rect x="435" y="234" width="1" height="143" fill="#e52b2b"/>
<rect x="433" y="278" width="4.9" height="93" fill="#e52b2b"/>
<rect x="442" y="217.5" width="1" height="70.2" fill="#1e7af0"/>
<rect x="440" y="271" width="4.9" height="7" fill="#1e7af0"/>
<rect x="449" y="255.5" width="1" height="42.5" fill="#1e7af0"/>
<rect x="447" y="267" width="4.9" height="26.5" fill="#1e7af0"/>
<rect x="456" y="251" width="1" height="50" fill="#1e7af0"/>
<rect x="454" y="282.4" width="4.9" height="5.3" fill="#1e7af0"/>
<rect x="463" y="234" width="1" height="50.7" fill="#e52b2b"/>
<rect x="461" y="251" width="4.9" height="23.5" fill="#e52b2b"/>
<rect x="470" y="214.6" width="1" height="61.4" fill="#1e7af0"/>
<rect x="468" y="251" width="4.9" height="17.7" fill="#1e7af0"/>
<rect x="477" y="234" width="1" height="58" fill="#e52b2b"/>
<rect x="475" y="264" width="4.9" height="2" fill="#e52b2b"/>
<rect x="484" y="148.8" width="1" height="95" fill="#e52b2b"/>
<rect x="482" y="226.8" width="4.9" height="12.6" fill="#e52b2b"/>
<rect x="491" y="175" width="1" height="61.5" fill="#1e7af0"/>
<rect x="489" y="203.7" width="4.9" height="13.8" fill="#1e7af0"/>
<rect x="498" y="242" width="1" height="53" fill="#1e7af0"/>
<rect x="496" y="243.8" width="4.9" height="32.2" fill="#1e7af0"/>
<rect x="505" y="219.5" width="1" height="63.5" fill="#1e7af0"/>
<rect x="503" y="250.5" width="4.9" height="24" fill="#1e7af0"/>
<rect x="512" y="251" width="1" height="58" fill="#e52b2b"/>
<rect x="510" y="287" width="4.9" height="19.7" fill="#e52b2b"/>
<rect x="519" y="285" width="1" height="33" fill="#1e7af0"/>
<rect x="517" y="285" width="4.9" height="22.5" fill="#1e7af0"/>
<rect x="526" y="271.4" width="1" height="42.3" fill="#1e7af0"/>
<rect x="524" y="299.9" width="4.9" height="1.7" fill="#1e7af0"/>
<rect x="533" y="291.8" width="1" height="26.2" fill="#1e7af0"/>
<rect x="531" y="300.6" width="4.9" height="1.2" fill="#1e7af0"/>
<rect x="540" y="301.8" width="1" height="21.2" fill="#1e7af0"/>
<rect x="538" y="301.8" width="4.9" height="12.7" fill="#1e7af0"/>
<rect x="547" y="328" width="1" height="34.7" fill="#1e7af0"/>
<rect x="545" y="328.3" width="4.9" height="34.4" fill="#1e7af0"/>
<rect x="554" y="342" width="1" height="29.7" fill="#e52b2b"/>
<rect x="552" y="353" width="4.9" height="9.7" fill="#e52b2b"/>
<rect x="561" y="346" width="1" height="50" fill="#1e7af0"/>
<rect x="559" y="360.7" width="4.9" height="33.6" fill="#1e7af0"/>
<rect x="568" y="387" width="1" height="34.5" fill="#1e7af0"/>
<rect x="566" y="394" width="4.9" height="1.5" fill="#1e7af0"/>
<rect x="575" y="361" width="1" height="21.6" fill="#e52b2b"/>
<rect x="573" y="371" width="4.9" height="10.4" fill="#e52b2b"/>
<rect x="582" y="396" width="1" height="21.4" fill="#1e7af0"/>
<rect x="580" y="403.8" width="4.9" height="13.6" fill="#1e7af0"/>
<rect x="589" y="405.7" width="1" height="32.1" fill="#1e7af0"/>
<rect x="587" y="411.8" width="4.9" height="23.2" fill="#1e7af0"/>
<rect x="596" y="413" width="1" height="29" fill="#1e7af0"/>
<rect x="594" y="426.4" width="4.9" height="12.9" fill="#1e7af0"/>
<rect x="603" y="412" width="1" height="27.5" fill="#e52b2b"/>
<rect x="601" y="418.8" width="4.9" height="19.8" fill="#e52b2b"/>
<rect x="610" y="399" width="1" height="19.8" fill="#e52b2b"/>
<rect x="608" y="412.6" width="4.9" height="4.3" fill="#e52b2b"/>
<rect x="617" y="400.8" width="1" height="15.7" fill="#e52b2b"/>
<rect x="615" y="405" width="4.9" height="6.7" fill="#e52b2b"/>
<rect x="624" y="400" width="1" height="24.4" fill="#1e7af0"/>
<rect x="622" y="405" width="4.9" height="18.8" fill="#1e7af0"/>
<rect x="632" y="413.2" width="1" height="12.3" fill="#e52b2b"/>
<rect x="630" y="417" width="4.9" height="4.6" fill="#e52b2b"/>
<rect x="639" y="396" width="1" height="21.7" fill="#e52b2b"/>
<rect x="637" y="402" width="4.9" height="10.6" fill="#e52b2b"/>
<rect x="646" y="400" width="1" height="22.5" fill="#1e7af0"/>
<rect x="644" y="402" width="4.9" height="19.8" fill="#1e7af0"/>
<rect x="653" y="403" width="1" height="18.6" fill="#e52b2b"/>
<rect x="651" y="405" width="4.9" height="14.3" fill="#e52b2b"/>
<rect x="660" y="402" width="1" height="15.7" fill="#1e7af0"/>
<rect x="658" y="405" width="4.9" height="7.6" fill="#1e7af0"/>
<rect x="667" y="413" width="1" height="9.7" fill="#1e7af0"/>
<rect x="665" y="414.3" width="4.9" height="3.4" fill="#1e7af0"/>
<rect x="674" y="415.4" width="1" height="12.4" fill="#1e7af0"/>
<rect x="672" y="417" width="4.9" height="5.5" fill="#1e7af0"/>
<rect x="681" y="403.9" width="1" height="14.9" fill="#e52b2b"/>
<rect x="679" y="416" width="4.9" height="1.7" fill="#e52b2b"/>
<rect x="688" y="391" width="1" height="27.8" fill="#e52b2b"/>
<rect x="686" y="393" width="4.9" height="21.6" fill="#e52b2b"/>
<rect x="695" y="393" width="1" height="20.7" fill="#1e7af0"/>
<rect x="693" y="393" width="4.9" height="13.4" fill="#1e7af0"/>
<rect x="702" y="407" width="1" height="19.6" fill="#1e7af0"/>
<rect x="700" y="412.6" width="4.9" height="6.7" fill="#1e7af0"/>
<rect x="709" y="415.4" width="1" height="22.4" fill="#1e7af0"/>
<rect x="707" y="420" width="4.9" height="9.7" fill="#1e7af0"/>
<rect x="716" y="436" width="1" height="13.8" fill="#1e7af0"/>
<rect x="714" y="441.2" width="4.9" height="2.3" fill="#1e7af0"/>
<rect x="723" y="419.3" width="1" height="21.4" fill="#e52b2b"/>
<rect x="721" y="430.3" width="4.9" height="7.2" fill="#e52b2b"/>
<rect x="730" y="403" width="1" height="21.6" fill="#e52b2b"/>
<rect x="728" y="412" width="4.9" height="12.6" fill="#e52b2b"/>
<rect x="737" y="409" width="1" height="14.6" fill="#1e7af0"/>
<rect x="735" y="411" width="4.9" height="12.6" fill="#1e7af0"/>
<rect x="744" y="418.2" width="1" height="14.6" fill="#1e7af0"/>
<rect x="742" y="420" width="4.9" height="10.6" fill="#1e7af0"/>
<rect x="751" y="428.3" width="1" height="16.3" fill="#1e7af0"/>
<rect x="749" y="439" width="4.9" height="5" fill="#1e7af0"/>
<rect x="758" y="409" width="1" height="38.4" fill="#e52b2b"/>
<rect x="756" y="419" width="4.9" height="28.4" fill="#e52b2b"/>
<rect x="765" y="420" width="1" height="19.5" fill="#1e7af0"/>
<rect x="763" y="420" width="4.9" height="18.6" fill="#1e7af0"/>
<rect x="772" y="389" width="1" height="53.7" fill="#e52b2b"/>
<rect x="770" y="401" width="4.9" height="34.6" fill="#e52b2b"/>
<rect x="779" y="391" width="1" height="14.7" fill="#1e7af0"/>
<rect x="777" y="401.4" width="4.9" height="1.3" fill="#1e7af0"/>
<rect x="786" y="391" width="1" height="24.4" fill="#1e7af0"/>
<rect x="784" y="394" width="4.9" height="10.5" fill="#1e7af0"/>
<rect x="793" y="401" width="1" height="23.7" fill="#1e7af0"/>
<rect x="791" y="406" width="4.9" height="9.8" fill="#1e7af0"/>
<rect x="800" y="418" width="1" height="20.6" fill="#1e7af0"/>
<rect x="798" y="423" width="4.9" height="13.7" fill="#1e7af0"/>
<rect x="807" y="418" width="1" height="21.8" fill="#e52b2b"/>
<rect x="805" y="418" width="4.9" height="16.8" fill="#e52b2b"/>
<rect x="814" y="398" width="1" height="20.8" fill="#e52b2b"/>
<rect x="812" y="409" width="4.9" height="4.2" fill="#e52b2b"/>
<rect x="821" y="396" width="1" height="20.9" fill="#1e7af0"/>
<rect x="819" y="402" width="4.9" height="10.8" fill="#1e7af0"/>
<rect x="828" y="398" width="1" height="23.6" fill="#1e7af0"/>
<rect x="826" y="409" width="4.9" height="7.5" fill="#1e7af0"/>
<rect x="835" y="415" width="1" height="12.7" fill="#222"/>
<rect x="833" y="415" width="4.9" height="1.2" fill="#222"/>
<rect x="842" y="407" width="1" height="14" fill="#e52b2b"/>
<rect x="840" y="411.5" width="4.9" height="2.9" fill="#e52b2b"/>
<rect x="849" y="395" width="1" height="22.4" fill="#1e7af0"/>
<rect x="847" y="408" width="4.9" height="3" fill="#1e7af0"/>
<rect x="856" y="353" width="1" height="81.5" fill="#e52b2b"/>
<rect x="854" y="368" width="4.9" height="42.6" fill="#e52b2b"/>
<rect x="863" y="312" width="1" height="80" fill="#e52b2b"/>
<rect x="861" y="355" width="4.9" height="15.6" fill="#e52b2b"/>
<rect x="870" y="341.7" width="1" height="47.1" fill="#1e7af0"/>
<rect x="868" y="344" width="4.9" height="43" fill="#1e7af0"/>
<rect x="877" y="362" width="1" height="28" fill="#1e7af0"/>
<rect x="875" y="379" width="4.9" height="4.4" fill="#1e7af0"/>
<rect x="885" y="368" width="1" height="14.6" fill="#e52b2b"/>
<rect x="883" y="380" width="4.9" height="2.6" fill="#e52b2b"/>
<rect x="892" y="354.8" width="1" height="29.2" fill="#1e7af0"/>
<rect x="890" y="368" width="4.9" height="3.5" fill="#1e7af0"/>
<rect x="899" y="346.8" width="1" height="30.6" fill="#1e7af0"/>
<rect x="897" y="360" width="4.9" height="4.3" fill="#1e7af0"/>
<rect x="906" y="347.7" width="1" height="34.9" fill="#e52b2b"/>
<rect x="904" y="350" width="4.9" height="13.3" fill="#e52b2b"/>
<rect x="913" y="331" width="1" height="41.3" fill="#1e7af0"/>
<rect x="911" y="350.2" width="4.9" height="14.1" fill="#1e7af0"/>
<rect x="920" y="352" width="1" height="52" fill="#1e7af0"/>
<rect x="918" y="368" width="4.9" height="27.3" fill="#1e7af0"/>
<rect x="927" y="355.3" width="1" height="26.1" fill="#e52b2b"/>
<rect x="925" y="358" width="4.9" height="23.4" fill="#e52b2b"/>
<rect x="934" y="322.4" width="1" height="40.3" fill="#e52b2b"/>
<rect x="932" y="333" width="4.9" height="24.5" fill="#e52b2b"/>
<rect x="941" y="326" width="1" height="43" fill="#1e7af0"/>
<rect x="939" y="336" width="4.9" height="23.6" fill="#1e7af0"/>
<rect x="948" y="375" width="1" height="38.4" fill="#1e7af0"/>
<rect x="946" y="377" width="4.9" height="2.3" fill="#1e7af0"/>
<rect x="955" y="332.3" width="1" height="31.7" fill="#e52b2b"/>
<rect x="953" y="343" width="4.9" height="21" fill="#e52b2b"/>
<rect x="962" y="334.8" width="1" height="34.2" fill="#1e7af0"/>
<rect x="960" y="340" width="4.9" height="28" fill="#1e7af0"/>
<rect x="969" y="339.3" width="1" height="35.7" fill="#e52b2b"/>
<rect x="967" y="353.4" width="4.9" height="7.3" fill="#e52b2b"/>
<rect x="976" y="320.3" width="1" height="26.9" fill="#e52b2b"/>
<rect x="974" y="340" width="4.9" height="1.4" fill="#e52b2b"/>
<rect x="983" y="246" width="1" height="106.4" fill="#e52b2b"/>
<rect x="981" y="324" width="4.9" height="17" fill="#e52b2b"/>
<rect x="990" y="300.7" width="1" height="20.7" fill="#1e7af0"/>
<rect x="988" y="304" width="4.9" height="14.3" fill="#1e7af0"/>
<rect x="997" y="274.8" width="1" height="51.7" fill="#e52b2b"/>
<rect x="995" y="299.6" width="4.9" height="18.7" fill="#e52b2b"/>
<rect x="1004" y="224.5" width="1" height="66.9" fill="#e52b2b"/>
<rect x="1002" y="263" width="4.9" height="11" fill="#e52b2b"/>
<rect x="562" y="266" width="448" height="53" fill="rgba(248,222,90,0.28)" stroke="rgba(246,214,80,0.75)" stroke-width="1.5"/>
</g>
<g clip-path="url(#cv)">
<rect x="4" y="789.2" width="6" height="3.6" fill="#8db8f2"/>
<rect x="11" y="791" width="6" height="1.8" fill="#8db8f2"/>
<rect x="18" y="791" width="6" height="1.8" fill="#f4a0a0"/>
<rect x="25" y="791" width="6" height="1.8" fill="#8db8f2"/>
<rect x="32" y="787" width="6" height="5.8" fill="#f4a0a0"/>
<rect x="39" y="791" width="6" height="1.8" fill="#8db8f2"/>
<rect x="46" y="791" width="6" height="1.8" fill="#8db8f2"/>
<rect x="53" y="791" width="6" height="1.8" fill="#f4a0a0"/>
<rect x="60" y="790" width="6" height="2.8" fill="#8db8f2"/>
<rect x="67" y="791" width="6" height="1.8" fill="#f4a0a0"/>
<rect x="74" y="777.8" width="6" height="15" fill="#f4a0a0"/>
<rect x="81" y="760" width="6" height="32.8" fill="#f4a0a0"/>
<rect x="88" y="633.2" width="6" height="159.6" fill="#f4a0a0"/>
<rect x="95" y="740" width="6" height="52.8" fill="#f4a0a0"/>
<rect x="102" y="695" width="6" height="97.8" fill="#f4a0a0"/>
<rect x="109" y="769" width="6" height="23.8" fill="#f4a0a0"/>
<rect x="116" y="769" width="6" height="23.8" fill="#8db8f2"/>
<rect x="123" y="769" width="6" height="23.8" fill="#f4a0a0"/>
<rect x="131" y="782.9" width="6" height="9.9" fill="#8db8f2"/>
<rect x="138" y="777" width="6" height="15.8" fill="#8db8f2"/>
<rect x="145" y="785" width="6" height="7.8" fill="#f4a0a0"/>
<rect x="152" y="766" width="6" height="26.8" fill="#f4a0a0"/>
<rect x="159" y="781" width="6" height="11.8" fill="#8db8f2"/>
<rect x="166" y="787" width="6" height="5.8" fill="#8db8f2"/>
<rect x="173" y="787" width="6" height="5.8" fill="#8db8f2"/>
<rect x="180" y="783" width="6" height="9.8" fill="#8db8f2"/>
<rect x="187" y="789" width="6" height="3.8" fill="#f4a0a0"/>
<rect x="194" y="788" width="6" height="4.8" fill="#8db8f2"/>
<rect x="201" y="781" width="6" height="11.8" fill="#8db8f2"/>
<rect x="208" y="788" width="6" height="4.8" fill="#8db8f2"/>
<rect x="215" y="785" width="6" height="7.8" fill="#8db8f2"/>
<rect x="222" y="788" width="6" height="4.8" fill="#8db8f2"/>
<rect x="229" y="787" width="6" height="5.8" fill="#8db8f2"/>
<rect x="236" y="789" width="6" height="3.8" fill="#f4a0a0"/>
<rect x="243" y="784" width="6" height="8.8" fill="#f4a0a0"/>
<rect x="250" y="782" width="6" height="10.8" fill="#f4a0a0"/>
<rect x="257" y="782" width="6" height="10.8" fill="#8db8f2"/>
<rect x="264" y="781" width="6" height="11.8" fill="#f4a0a0"/>
<rect x="271" y="787.8" width="6" height="5" fill="#8db8f2"/>
<rect x="278" y="775.7" width="6" height="17.1" fill="#f4a0a0"/>
<rect x="285" y="787.8" width="6" height="5" fill="#8db8f2"/>
<rect x="292" y="789.8" width="6" height="3" fill="#f4a0a0"/>
<rect x="299" y="788.8" width="6" height="4" fill="#8db8f2"/>
<rect x="306" y="783.7" width="6" height="9.1" fill="#f4a0a0"/>
<rect x="313" y="783.7" width="6" height="9.1" fill="#8db8f2"/>
<rect x="320" y="787.8" width="6" height="5" fill="#8db8f2"/>
<rect x="327" y="787.8" width="6" height="5" fill="#8db8f2"/>
<rect x="334" y="786.8" width="6" height="6" fill="#8db8f2"/>
<rect x="341" y="789.8" width="6" height="3" fill="#f4a0a0"/>
<rect x="348" y="785.8" width="6" height="7" fill="#f4a0a0"/>
<rect x="355" y="789.8" width="6" height="3" fill="#8db8f2"/>
<rect x="362" y="787.8" width="6" height="5" fill="#f4a0a0"/>
<rect x="369" y="784.7" width="6" height="8.1" fill="#f4a0a0"/>
<rect x="376" y="787.8" width="6" height="5" fill="#f4a0a0"/>
<rect x="384" y="785.8" width="6" height="7" fill="#8db8f2"/>
<rect x="391" y="785.8" width="6" height="7" fill="#f4a0a0"/>
<rect x="398" y="786.8" width="6" height="6" fill="#8db8f2"/>
<rect x="405" y="782.7" width="6" height="10.1" fill="#8db8f2"/>
<rect x="412" y="786.8" width="6" height="6" fill="#8db8f2"/>
<rect x="419" y="782.7" width="6" height="10.1" fill="#8db8f2"/>
<rect x="426" y="788.8" width="6" height="4" fill="#a0a0a0"/>
<rect x="433" y="664.6" width="6" height="128.2" fill="#f4a0a0"/>
<rect x="440" y="751" width="6" height="41.8" fill="#8db8f2"/>
<rect x="447" y="780" width="6" height="12.8" fill="#8db8f2"/>
<rect x="454" y="780.7" width="6" height="12.1" fill="#8db8f2"/>
<rect x="461" y="753.5" width="6" height="39.3" fill="#f4a0a0"/>
<rect x="468" y="767.6" width="6" height="25.2" fill="#8db8f2"/>
<rect x="475" y="780.7" width="6" height="12.1" fill="#f4a0a0"/>
<rect x="482" y="719.6" width="6" height="73.2" fill="#f4a0a0"/>
<rect x="489" y="773.6" width="6" height="19.2" fill="#8db8f2"/>
<rect x="496" y="782.5" width="6" height="10.3" fill="#8db8f2"/>
<rect x="503" y="781.7" width="6" height="11.1" fill="#8db8f2"/>
<rect x="510" y="785.8" width="6" height="7" fill="#f4a0a0"/>
<rect x="517" y="787.8" width="6" height="5" fill="#8db8f2"/>
<rect x="524" y="786.8" width="6" height="6" fill="#8db8f2"/>
<rect x="531" y="789" width="6" height="3.8" fill="#8db8f2"/>
<rect x="538" y="789" width="6" height="3.8" fill="#8db8f2"/>
<rect x="545" y="787" width="6" height="5.8" fill="#8db8f2"/>
<rect x="552" y="789" width="6" height="3.8" fill="#f4a0a0"/>
<rect x="559" y="788" width="6" height="4.8" fill="#8db8f2"/>
<rect x="566" y="790" width="6" height="2.8" fill="#8db8f2"/>
<rect x="573" y="789" width="6" height="3.8" fill="#f4a0a0"/>
<rect x="580" y="789" width="6" height="3.8" fill="#8db8f2"/>
<rect x="587" y="789" width="6" height="3.8" fill="#8db8f2"/>
<rect x="594" y="791" width="6" height="1.8" fill="#8db8f2"/>
<rect x="601" y="790" width="6" height="2.8" fill="#f4a0a0"/>
<rect x="608" y="790" width="6" height="2.8" fill="#f4a0a0"/>
<rect x="615" y="791" width="6" height="1.8" fill="#f4a0a0"/>
<rect x="622" y="790" width="6" height="2.8" fill="#8db8f2"/>
<rect x="630" y="791" width="6" height="1.8" fill="#f4a0a0"/>
<rect x="637" y="790" width="6" height="2.8" fill="#f4a0a0"/>
<rect x="644" y="790" width="6" height="2.8" fill="#8db8f2"/>
<rect x="651" y="790" width="6" height="2.8" fill="#f4a0a0"/>
<rect x="658" y="791" width="6" height="1.8" fill="#8db8f2"/>
<rect x="665" y="791" width="6" height="1.8" fill="#8db8f2"/>
<rect x="672" y="791" width="6" height="1.8" fill="#8db8f2"/>
<rect x="679" y="790" width="6" height="2.8" fill="#f4a0a0"/>
<rect x="686" y="789" width="6" height="3.8" fill="#f4a0a0"/>
<rect x="693" y="790" width="6" height="2.8" fill="#8db8f2"/>
<rect x="700" y="790" width="6" height="2.8" fill="#8db8f2"/>
<rect x="707" y="791" width="6" height="1.8" fill="#8db8f2"/>
<rect x="714" y="791" width="6" height="1.8" fill="#8db8f2"/>
<rect x="721" y="791" width="6" height="1.8" fill="#f4a0a0"/>
<rect x="728" y="791" width="6" height="1.8" fill="#f4a0a0"/>
<rect x="735" y="791" width="6" height="1.8" fill="#8db8f2"/>
<rect x="742" y="791" width="6" height="1.8" fill="#8db8f2"/>
<rect x="749" y="791" width="6" height="1.8" fill="#8db8f2"/>
<rect x="756" y="791" width="6" height="1.8" fill="#f4a0a0"/>
<rect x="763" y="791" width="6" height="1.8" fill="#8db8f2"/>
<rect x="770" y="788" width="6" height="4.8" fill="#f4a0a0"/>
<rect x="777" y="790" width="6" height="2.8" fill="#8db8f2"/>
<rect x="784" y="790" width="6" height="2.8" fill="#8db8f2"/>
<rect x="791" y="791" width="6" height="1.8" fill="#8db8f2"/>
<rect x="798" y="791" width="6" height="1.8" fill="#8db8f2"/>
<rect x="805" y="791" width="6" height="1.8" fill="#f4a0a0"/>
<rect x="812" y="790" width="6" height="2.8" fill="#f4a0a0"/>
<rect x="819" y="790" width="6" height="2.8" fill="#8db8f2"/>
<rect x="826" y="791" width="6" height="1.8" fill="#8db8f2"/>
<rect x="833" y="791" width="6" height="1.8" fill="#a0a0a0"/>
<rect x="840" y="790" width="6" height="2.8" fill="#f4a0a0"/>
<rect x="847" y="790" width="6" height="2.8" fill="#8db8f2"/>
<rect x="854" y="771" width="6" height="21.8" fill="#f4a0a0"/>
<rect x="861" y="771" width="6" height="21.8" fill="#f4a0a0"/>
<rect x="868" y="786" width="6" height="6.8" fill="#8db8f2"/>
<rect x="875" y="789" width="6" height="3.8" fill="#8db8f2"/>
<rect x="883" y="789" width="6" height="3.8" fill="#f4a0a0"/>
<rect x="890" y="789" width="6" height="3.8" fill="#8db8f2"/>
<rect x="897" y="788" width="6" height="4.8" fill="#8db8f2"/>
<rect x="904" y="787" width="6" height="5.8" fill="#f4a0a0"/>
<rect x="911" y="785" width="6" height="7.8" fill="#8db8f2"/>
<rect x="918" y="788" width="6" height="4.8" fill="#8db8f2"/>
<rect x="925" y="789" width="6" height="3.8" fill="#f4a0a0"/>
<rect x="932" y="784" width="6" height="8.8" fill="#f4a0a0"/>
<rect x="939" y="787" width="6" height="5.8" fill="#8db8f2"/>
<rect x="946" y="789" width="6" height="3.8" fill="#8db8f2"/>
<rect x="953" y="787" width="6" height="5.8" fill="#f4a0a0"/>
<rect x="960" y="789" width="6" height="3.8" fill="#8db8f2"/>
<rect x="967" y="789" width="6" height="3.8" fill="#f4a0a0"/>
<rect x="974" y="787" width="6" height="5.8" fill="#f4a0a0"/>
<rect x="981" y="738" width="6" height="54.8" fill="#f4a0a0"/>
<rect x="988" y="786" width="6" height="6.8" fill="#8db8f2"/>
<rect x="995" y="782" width="6" height="10.8" fill="#f4a0a0"/>
<rect x="1002" y="764" width="6" height="28.8" fill="#f4a0a0"/>
</g>
<line x1="10" y1="204.4" x2="61.1" y2="204.4" stroke="#14b04e" stroke-width="2.8" stroke-dasharray="4.8 4.2"/>
<line x1="59.5" y1="209" x2="59.5" y2="331" stroke="#14b04e" stroke-width="2.8" stroke-dasharray="4.8 4.2"/>
<line x1="11.5" y1="210" x2="11.5" y2="332" stroke="#14b04e" stroke-width="2.8" stroke-dasharray="4.8 4.2"/>
<line x1="15.1" y1="332.5" x2="56" y2="332.5" stroke="#14b04e" stroke-width="2.8" stroke-dasharray="4.8 4.2"/>
<line x1="941.1" y1="445.5" x2="1031" y2="445.5" stroke="#14b04e" stroke-width="2.8" stroke-dasharray="4.8 4.2"/>
<line x1="1029.4" y1="446.9" x2="1029.4" y2="587.5" stroke="#14b04e" stroke-width="2.8" stroke-dasharray="4.8 4.2"/>
<line x1="942.5" y1="453" x2="942.5" y2="585" stroke="#14b04e" stroke-width="2.8" stroke-dasharray="4.8 4.2"/>
<line x1="941.1" y1="589.1" x2="1027.5" y2="589.1" stroke="#14b04e" stroke-width="2.8" stroke-dasharray="4.8 4.2"/>
<line x1="95.4" y1="152.7" x2="62" y2="191" stroke="#14b04e" stroke-width="3.3" stroke-linecap="round"/>
<polygon points="55.6,198.3 54.5,184 70.2,197.2" fill="#14b04e"/>
<line x1="1025.4" y1="399" x2="1007.7" y2="365" stroke="#14b04e" stroke-width="3" stroke-linecap="round"/>
<polygon points="1003.1,356.3 1017,360.3 998.4,369.8" fill="#14b04e"/>
<line x1="859" y1="527.5" x2="921" y2="526.5" stroke="#14b04e" stroke-width="3" stroke-linecap="round"/>
<polygon points="932.6,526.4 920.5,516.5 920.5,536.2" fill="#14b04e"/>
<path d="M23.1,555.6 H10.6 M15.6,551.1 L10.8,555.6 L15.6,560.1" fill="none" stroke="#3a8ef0" stroke-width="1.2"/>
<path d="M500.9,148.5 H488.4 M493.6,144 L488.6,148.5 L493.6,153" fill="none" stroke="#e53935" stroke-width="1.2"/>
</svg>

<div class="k" style="left:14.5px;top:628.5px;font-size:12px;color:#666;transform:scaleX(.87)">거래량</div>
<div class="a" style="left:55.5px;top:629px;font-size:12px;color:#e52b2b">336</div>
<div class="k" style="left:76px;top:628.5px;font-size:12px;color:#e52b2b;transform:scaleX(.9)">만</div>
<div class="a" style="left:90.5px;top:629px;font-size:12px;color:#e52b2b;letter-spacing:.16px">8,226 (+176.36%)</div>
<!-- hline labels -->
<div class="a" style="left:17px;top:216px;font-size:12.5px;color:#5040f0">11946</div>
<div class="a" style="left:17px;top:249px;font-size:12.5px;color:#5040f0">11435</div>
<div class="a" style="left:17px;top:293px;font-size:12.5px;color:#5040f0">10757</div>
<div class="a" style="left:17px;top:301px;font-size:12.5px;color:#5040f0">10634</div>

<!-- price tag -->
<div class="a" style="left:1010px;top:247px;width:58px;height:32px;background:#e52b2b"></div>
<div class="a" style="left:1017px;top:250px;font-size:12px;color:#fff;font-weight:bold">11,490</div>
<div class="a" style="left:1017px;top:264px;font-size:12px;color:#fff;font-weight:bold">+5.12%</div>
</body></html>
